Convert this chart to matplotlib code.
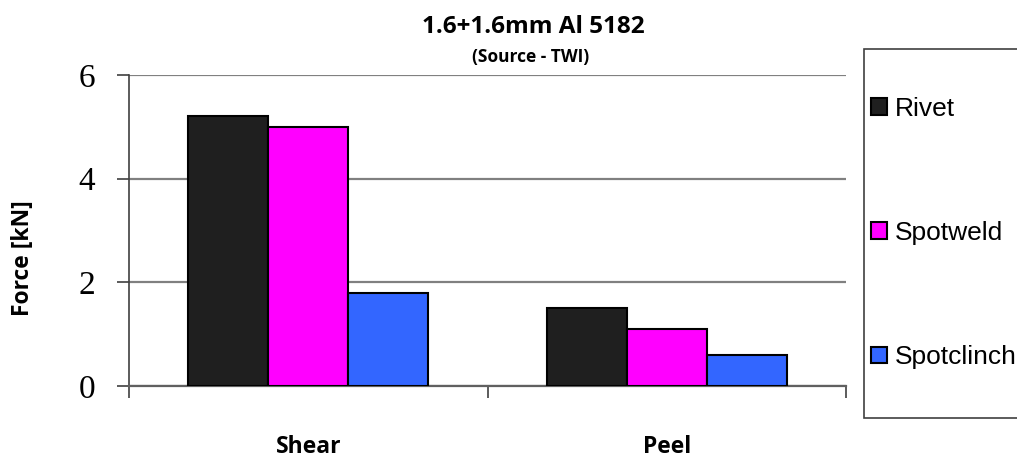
import numpy as np
import matplotlib
matplotlib.use("Agg")
import matplotlib.pyplot as plt
from matplotlib.patches import Patch, Rectangle

# data
categories = ["Shear", "Peel"]
series = ["Rivet", "Spotweld", "Spotclinch"]
rivet = [5.2, 1.5]
spotweld = [5.0, 1.1]
spotclinch = [1.8, 0.6]
colors = ["#1f1f1f", "#ff00ff", "#3366ff"]
y_ticks = [0, 2, 4, 6]

W, H = 1017, 457
fig = plt.figure(figsize=(W / 100, H / 100), dpi=100)
ax = fig.add_axes([129 / W, 1 - 386 / H, (846 - 129) / W, (386 - 75) / H])

x = np.arange(len(categories))
width = 0.223
values = [rivet, spotweld, spotclinch]
for i, (vals, col) in enumerate(zip(values, colors)):
    ax.bar(x + (i - 1) * width, vals, width, color=col, edgecolor="black",
           linewidth=1.5, zorder=3)

ax.set_xlim(-0.5, 1.5)
ax.set_ylim(0, 6)
ax.set_yticks(y_ticks)
ax.set_yticklabels([str(t) for t in y_ticks], family="Liberation Serif",
                   fontsize=24)
ax.yaxis.grid(True, color="#808080", linewidth=1.6, zorder=0)

# category labels on major ticks, group borders on minor ticks
ax.set_xticks(x)
ax.set_xticklabels(categories, family="Open Sans", fontweight="bold",
                   fontsize=16.5)
ax.set_xticks([-0.5, 0.5, 1.5], minor=True)
ax.tick_params(axis="x", which="major", length=0, pad=35)
ax.tick_params(axis="x", which="minor", length=8.5, width=1.2,
               color="#404040")
ax.tick_params(axis="y", length=8.5, width=1.2, color="#404040", pad=16)

for s in ["top", "right"]:
    ax.spines[s].set_visible(False)
ax.spines["left"].set_color("#404040")
ax.spines["left"].set_linewidth(1.2)
ax.spines["bottom"].set_color("#606060")
ax.spines["bottom"].set_linewidth(1.6)

fig.text(23 / W, 1 - 258 / H, "Force [kN]", family="Open Sans",
         fontweight="bold", fontsize=16.5, rotation=90,
         ha="center", va="center")

fig.text(533 / W, 1 - 27 / H, "1.6+1.6mm Al 5182", family="Open Sans",
         fontweight="bold", fontsize=17.5, ha="center", va="center")
fig.text(531 / W, 1 - 57 / H, "(Source - TWI)", family="Open Sans",
         fontweight="bold", fontsize=12.5, ha="center", va="center")

# legend: box drawn separately, runs off the right edge like the original
fig.patches.append(Rectangle((864 / W, 1 - 418 / H), 200 / W, 369 / H,
                             transform=fig.transFigure, facecolor="white",
                             edgecolor="#404040", linewidth=1.2, zorder=0))
handles = [Patch(facecolor=c, edgecolor="black", linewidth=1.5) for c in colors]
leg = fig.legend(handles, series, loc="center left",
                 bbox_to_anchor=(871 / W, 1 - 233 / H),
                 prop={"family": "Liberation Sans", "size": 19},
                 frameon=False, handlelength=0.6, handleheight=0.6,
                 handletextpad=0.3, labelspacing=3.8, borderpad=0,
                 borderaxespad=0)

fig.savefig("out.png", dpi=100)
